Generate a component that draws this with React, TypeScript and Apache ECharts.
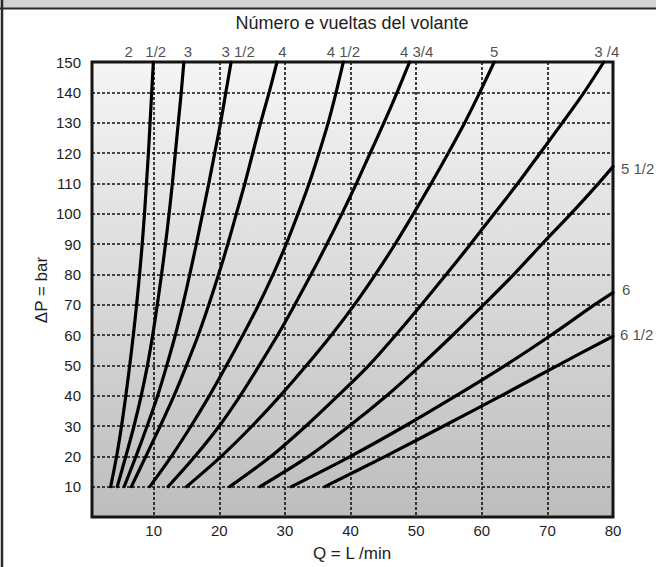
import React, { useEffect, useRef } from 'react';
import * as echarts from 'echarts';

// Pressure levels (ΔP, bar) at which the curves were read
const P_LEVELS = [10, 20, 30, 40, 50, 60, 70, 80, 90, 100, 110, 120, 130, 140, 150];

// Flow Q (L/min) for each handwheel-turn curve at the P_LEVELS above
const Q_2_1_2 = [3.45, 4.35, 5.1, 5.75, 6.35, 6.9, 7.4, 7.85, 8.25, 8.6, 8.9, 9.2, 9.45, 9.7, 9.95];
const Q_3 = [4.45, 5.75, 7.0, 8.1, 9.05, 9.85, 10.55, 11.2, 11.8, 12.35, 12.85, 13.3, 13.75, 14.2, 14.6];
const Q_3_1_2 = [5.5, 7.3, 9.0, 10.6, 12.0, 13.3, 14.45, 15.5, 16.5, 17.45, 18.4, 19.3, 20.2, 21.0, 21.8];
const Q_4 = [6.6, 8.8, 11.0, 13.1, 15.0, 16.8, 18.4, 19.9, 21.3, 22.6, 23.9, 25.1, 26.3, 27.6, 28.8];
const Q_4_1_2 = [9.4, 12.7, 15.7, 18.5, 21.1, 23.6, 26.0, 28.2, 30.2, 32.0, 33.7, 35.2, 36.6, 37.8, 38.9];
const Q_4_3_4 = [12.2, 16.3, 20.0, 23.2, 26.1, 28.9, 31.5, 34.0, 36.4, 38.7, 40.9, 43.0, 45.1, 47.1, 49.0];
const Q_5 = [15.0, 20.3, 25.0, 29.3, 33.3, 37.1, 40.6, 43.8, 46.8, 49.6, 52.3, 54.9, 57.4, 59.7, 61.9];
const Q_5_3_4 = [21.6, 27.9, 33.2, 38.1, 42.8, 46.9, 50.8, 54.6, 58.3, 61.9, 65.5, 68.9, 72.3, 75.6, 78.6];

// Curves that leave the chart on the right side (own pressure levels)
const P_5_1_2 = [10, 20, 30, 40, 50, 60, 70, 80, 90, 100, 110, 115.5];
const Q_5_1_2 = [26.2, 33.6, 39.8, 45.5, 50.7, 55.6, 60.3, 64.9, 69.2, 73.6, 77.8, 80];
const P_6 = [10, 20, 30, 40, 50, 60, 70, 74];
const Q_6 = [31.0, 40.0, 48.3, 56.1, 63.6, 70.6, 77.2, 80];
const P_6_1_2 = [10, 20, 30, 40, 50, 59.6];
const Q_6_1_2 = [36.1, 45.3, 54.2, 63.0, 71.6, 80];

const CURVE_LABELS = ['2\u00a0\u00a0\u00a01/2', '3', '3 1/2', '4', '4 1/2', '4 3/4', '5', '3 /4', '5 1/2', '6', '6 1/2'];

const X_TICKS = [10, 20, 30, 40, 50, 60, 70];
const X_LABELS = [10, 20, 30, 40, 50, 60, 70, 80];
const Y_TICKS = [10, 20, 30, 40, 50, 60, 70, 80, 90, 100, 110, 120, 130, 140];
const Y_LABELS = [10, 20, 30, 40, 50, 60, 70, 80, 90, 100, 110, 120, 130, 140, 150];

const TITLE = 'Número e vueltas del volante';
const X_NAME = 'Q = L /min';
const Y_NAME = '\u0394P = bar';

// label placement styles (not data)
const LABEL_PLACE = [
  { align: 'center', offset: [-8, -11] },
  { align: 'center', offset: [4, -11] },
  { align: 'center', offset: [7, -11] },
  { align: 'center', offset: [5.5, -11] },
  { align: 'center', offset: [0, -11] },
  { align: 'center', offset: [7, -11] },
  { align: 'center', offset: [0, -11] },
  { align: 'center', offset: [3, -11] },
  { align: 'left', offset: [8, 2] },
  { align: 'left', offset: [9, -3] },
  { align: 'left', offset: [7, -2] },
];

const FONT = '"Liberation Sans", Arial, Helvetica, sans-serif';
const TXT = '#1e1e1e';

export default function App() {
  const ref = useRef<HTMLDivElement>(null);

  useEffect(() => {
    if (!ref.current) return;
    const chart = echarts.init(ref.current, null, { renderer: 'svg' });

    const curves = [
      { p: P_LEVELS, q: Q_2_1_2 },
      { p: P_LEVELS, q: Q_3 },
      { p: P_LEVELS, q: Q_3_1_2 },
      { p: P_LEVELS, q: Q_4 },
      { p: P_LEVELS, q: Q_4_1_2 },
      { p: P_LEVELS, q: Q_4_3_4 },
      { p: P_LEVELS, q: Q_5 },
      { p: P_LEVELS, q: Q_5_3_4 },
      { p: P_5_1_2, q: Q_5_1_2 },
      { p: P_6, q: Q_6 },
      { p: P_6_1_2, q: Q_6_1_2 },
    ];

    const lineSeries = curves.map((c, i) => ({
      type: 'line',
      name: CURVE_LABELS[i],
      data: c.q.map((q, j) => [q, c.p[j]]),
      smooth: 0.3,
      symbol: 'none',
      showSymbol: false,
      silent: true,
      lineStyle: { color: '#000', width: 3.2, cap: 'round' },
      z: 5,
    }));

    const labelSeries = {
      type: 'scatter',
      symbolSize: 0,
      silent: true,
      clip: false,
      z: 10,
      label: {
        show: true,
        position: 'inside',
        fontSize: 15,
        fontFamily: FONT,
        color: TXT,
        verticalAlign: 'middle',
      },
      data: curves.map((c, i) => ({
        value: [c.q[c.q.length - 1], c.p[c.p.length - 1]],
        label: {
          formatter: CURVE_LABELS[i],
          align: LABEL_PLACE[i].align,
          offset: LABEL_PLACE[i].offset,
        },
      })),
    };

    chart.setOption({
      animation: false,
      backgroundColor: '#ffffff',
      grid: {
        left: 92,
        right: 43,
        top: 62,
        height: 455,
        show: true,
        backgroundColor: new echarts.graphic.LinearGradient(0, 0, 0, 1, [
          { offset: 0, color: '#f5f5f5' },
          { offset: 1, color: '#bdbdbd' },
        ]),
        borderColor: '#151515',
        borderWidth: 3,
      },
      xAxis: {
        type: 'value',
        min: 0.6,
        max: 80,
        axisLine: { show: false },
        axisTick: { show: false, customValues: X_TICKS },
        axisLabel: {
          customValues: X_LABELS,
          fontSize: 15,
          fontFamily: FONT,
          color: TXT,
          margin: 6,
        },
        splitLine: {
          show: true,
          lineStyle: { color: '#111', width: 1.6, type: [3, 2] },
        },
      },
      yAxis: {
        type: 'value',
        min: 0,
        max: 150,
        interval: 10,
        axisLine: { show: false },
        axisTick: { show: false, customValues: Y_TICKS },
        axisLabel: {
          customValues: Y_LABELS,
          fontSize: 15,
          fontFamily: FONT,
          color: TXT,
          margin: 11,
          padding: [0, 0, 12, 0],
        },
        splitLine: {
          show: true,
          lineStyle: { color: '#111', width: 1.6, type: [3, 2] },
        },
      },
      graphic: [
        {
          type: 'rect',
          shape: { x: 0, y: 0, width: 656, height: 8 },
          style: { fill: '#d3d3d3' },
          silent: true,
        },
        {
          type: 'line',
          shape: { x1: 0, y1: 8.5, x2: 656, y2: 8.5 },
          style: { stroke: '#2a2a2a', lineWidth: 2 },
          silent: true,
        },
        {
          type: 'line',
          shape: { x1: 2, y1: 0, x2: 2, y2: 567 },
          style: { stroke: '#2a2a2a', lineWidth: 2.5 },
          silent: true,
        },
        {
          type: 'text',
          x: 352,
          y: 23,
          style: {
            text: TITLE,
            fontSize: 18,
            fontFamily: FONT,
            fill: TXT,
            align: 'center',
            verticalAlign: 'middle',
          },
          silent: true,
        },
        {
          type: 'text',
          x: 352,
          y: 553,
          style: {
            text: X_NAME,
            fontSize: 17,
            fontFamily: FONT,
            fill: TXT,
            align: 'center',
            verticalAlign: 'middle',
          },
          silent: true,
        },
        {
          type: 'text',
          x: 41,
          y: 290,
          rotation: Math.PI / 2,
          style: {
            text: Y_NAME,
            fontSize: 17,
            fontFamily: FONT,
            fill: TXT,
            align: 'center',
            verticalAlign: 'middle',
          },
          silent: true,
        },
      ],
      series: [...lineSeries, labelSeries],
    });

    return () => {
      chart.dispose();
    };
  }, []);

  return (
    <div
      ref={ref}
      style={{ position: 'fixed', left: 0, top: 0, width: 656, height: 567 }}
    />
  );
}
